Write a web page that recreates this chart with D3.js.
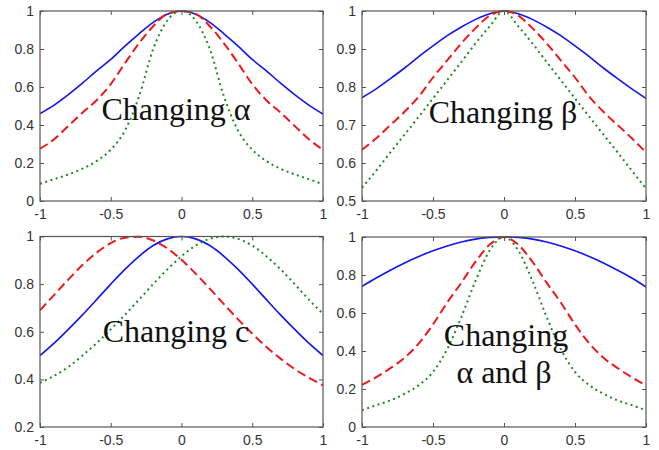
<!DOCTYPE html>
<html>
<head>
<meta charset="utf-8">
<script src="https://cdn.jsdelivr.net/npm/d3@7"></script>
<style>
  body { margin: 0; background: #fff; }
  svg { display: block; }
  .tick text { font-family: "Liberation Sans", Arial, sans-serif; font-size: 14px; fill: #333; }
  .label { font-family: "Liberation Serif", "Times New Roman", serif; font-size: 32px; fill: #111; }
</style>
</head>
<body>
<svg width="659" height="450"></svg>
<script>
// shared x samples
var xs = [-1,-0.9,-0.8,-0.7,-0.6,-0.5,-0.4,-0.3,-0.2,-0.1,0,0.1,0.2,0.3,0.4,0.5,0.6,0.7,0.8,0.9,1];
var xTicks = [-1,-0.5,0,0.5,1];

// panel 1: changing alpha
var blue1  = [0.46,0.505,0.56,0.62,0.685,0.745,0.815,0.88,0.94,0.983,1,0.983,0.94,0.88,0.815,0.745,0.685,0.62,0.56,0.505,0.458];
var red1   = [0.275,0.325,0.395,0.465,0.53,0.615,0.725,0.83,0.92,0.985,1,0.985,0.92,0.83,0.725,0.615,0.53,0.465,0.395,0.325,0.27];
var green1 = [0.09,0.115,0.14,0.17,0.21,0.27,0.37,0.55,0.8,0.95,1,0.95,0.8,0.55,0.37,0.27,0.21,0.17,0.14,0.115,0.088];
var yTicks1 = [0,0.2,0.4,0.6,0.8,1];

// panel 2: changing beta
var blue2  = [0.772,0.795,0.822,0.85,0.88,0.908,0.935,0.958,0.978,0.993,1,0.993,0.978,0.958,0.935,0.908,0.88,0.85,0.822,0.795,0.77];
var red2   = [0.635,0.665,0.70,0.735,0.775,0.825,0.87,0.915,0.955,0.988,1,0.988,0.955,0.915,0.87,0.825,0.775,0.735,0.70,0.665,0.628];
var green2 = [0.535,0.58,0.628,0.675,0.722,0.77,0.818,0.866,0.915,0.96,1,0.96,0.915,0.866,0.818,0.77,0.722,0.675,0.628,0.58,0.533];
var yTicks2 = [0.5,0.6,0.7,0.8,0.9,1];

// panel 3: changing c
var blue3  = [0.5,0.552,0.61,0.671,0.735,0.8,0.862,0.917,0.962,0.99,1,0.99,0.962,0.917,0.862,0.8,0.735,0.671,0.61,0.552,0.5];
var red3   = [0.69,0.755,0.819,0.88,0.932,0.972,0.995,0.999,0.983,0.95,0.902,0.844,0.781,0.716,0.652,0.592,0.536,0.487,0.443,0.407,0.375];
var green3 = [0.385,0.415,0.452,0.5,0.552,0.61,0.671,0.735,0.8,0.862,0.917,0.962,0.99,1,0.99,0.962,0.917,0.862,0.8,0.735,0.675];
var yTicks3 = [0.2,0.4,0.6,0.8,1];

// panel 4: changing alpha and beta
var blue4  = [0.74,0.784,0.825,0.863,0.897,0.927,0.953,0.974,0.989,0.998,1,0.998,0.989,0.974,0.953,0.927,0.897,0.863,0.825,0.784,0.737];
var red4   = [0.222,0.262,0.31,0.365,0.44,0.54,0.655,0.76,0.87,0.96,1,0.96,0.87,0.76,0.655,0.54,0.44,0.365,0.31,0.262,0.218];
var green4 = [0.088,0.115,0.14,0.175,0.22,0.29,0.41,0.58,0.77,0.93,1,0.93,0.77,0.58,0.41,0.29,0.22,0.175,0.14,0.115,0.088];
var yTicks4 = [0,0.2,0.4,0.6,0.8,1];

var svg = d3.select("svg");

var panels = [
  {l:40, r:323, t:11, b:201, ymin:0, series:[blue1,red1,green1], yt:yTicks1,
   text:[["Changing α",176,120]]},
  {l:362, r:646, t:11, b:201, ymin:0.5, series:[blue2,red2,green2], yt:yTicks2,
   text:[["Changing β",503,123]]},
  {l:40, r:323, t:236.5, b:427, ymin:0.2, series:[blue3,red3,green3], yt:yTicks3,
   text:[["Changing c",176,342]]},
  {l:362, r:646, t:237, b:427, ymin:0, series:[blue4,red4,green4], yt:yTicks4,
   text:[["Changing",506,346],["α and β",504,383]]}
];

var styles = [
  {color:"#1414f0", width:1.6, dash:null},
  {color:"#f01818", width:2, dash:"9,4.5"},
  {color:"#1d8a1d", width:2, dash:"2,3.5"}
];

var fmt = function(d) { return String(d); };

panels.forEach(function(p, i) {
  var x = d3.scaleLinear().domain([-1,1]).range([p.l,p.r]);
  var y = d3.scaleLinear().domain([p.ymin,1]).range([p.b,p.t]);
  var g = svg.append("g");

  g.append("clipPath").attr("id","clip"+i)
    .append("rect").attr("x",p.l).attr("y",p.t-2).attr("width",p.r-p.l).attr("height",p.b-p.t+2);

  var line = d3.line()
    .x(function(d,j){return x(xs[j]);})
    .y(function(d){return y(d);})
    .curve(d3.curveMonotoneX);

  p.series.forEach(function(s, k) {
    var st = styles[k];
    g.append("path")
      .attr("clip-path","url(#clip"+i+")")
      .attr("d", line(s))
      .attr("fill","none")
      .attr("stroke",st.color)
      .attr("stroke-width",st.width)
      .attr("stroke-dasharray",st.dash);
  });

  // axes, ticks pointing inward on all sides
  g.append("g").attr("transform","translate(0,"+p.b+")")
    .call(d3.axisBottom(x).tickValues(xTicks).tickFormat(fmt).tickSizeInner(-4).tickSizeOuter(0).tickPadding(8));
  g.append("g").attr("transform","translate(0,"+p.t+")")
    .call(d3.axisTop(x).tickValues(xTicks).tickFormat("").tickSizeInner(-4).tickSizeOuter(0));
  g.append("g").attr("transform","translate("+p.l+",0)")
    .call(d3.axisLeft(y).tickValues(p.yt).tickFormat(fmt).tickSizeInner(-4).tickSizeOuter(0).tickPadding(6));
  g.append("g").attr("transform","translate("+p.r+",0)")
    .call(d3.axisRight(y).tickValues(p.yt).tickFormat("").tickSizeInner(-4).tickSizeOuter(0));
  g.selectAll(".domain").remove();
  g.selectAll(".tick line").attr("stroke","#555");

  g.append("rect")
    .attr("x",p.l).attr("y",p.t)
    .attr("width",p.r-p.l).attr("height",p.b-p.t)
    .attr("fill","none").attr("stroke","#555").attr("stroke-width",1.2);

  p.text.forEach(function(t) {
    g.append("text").attr("class","label")
      .attr("x",t[1]).attr("y",t[2])
      .attr("text-anchor","middle")
      .text(t[0]);
  });
});
</script>
</body>
</html>
